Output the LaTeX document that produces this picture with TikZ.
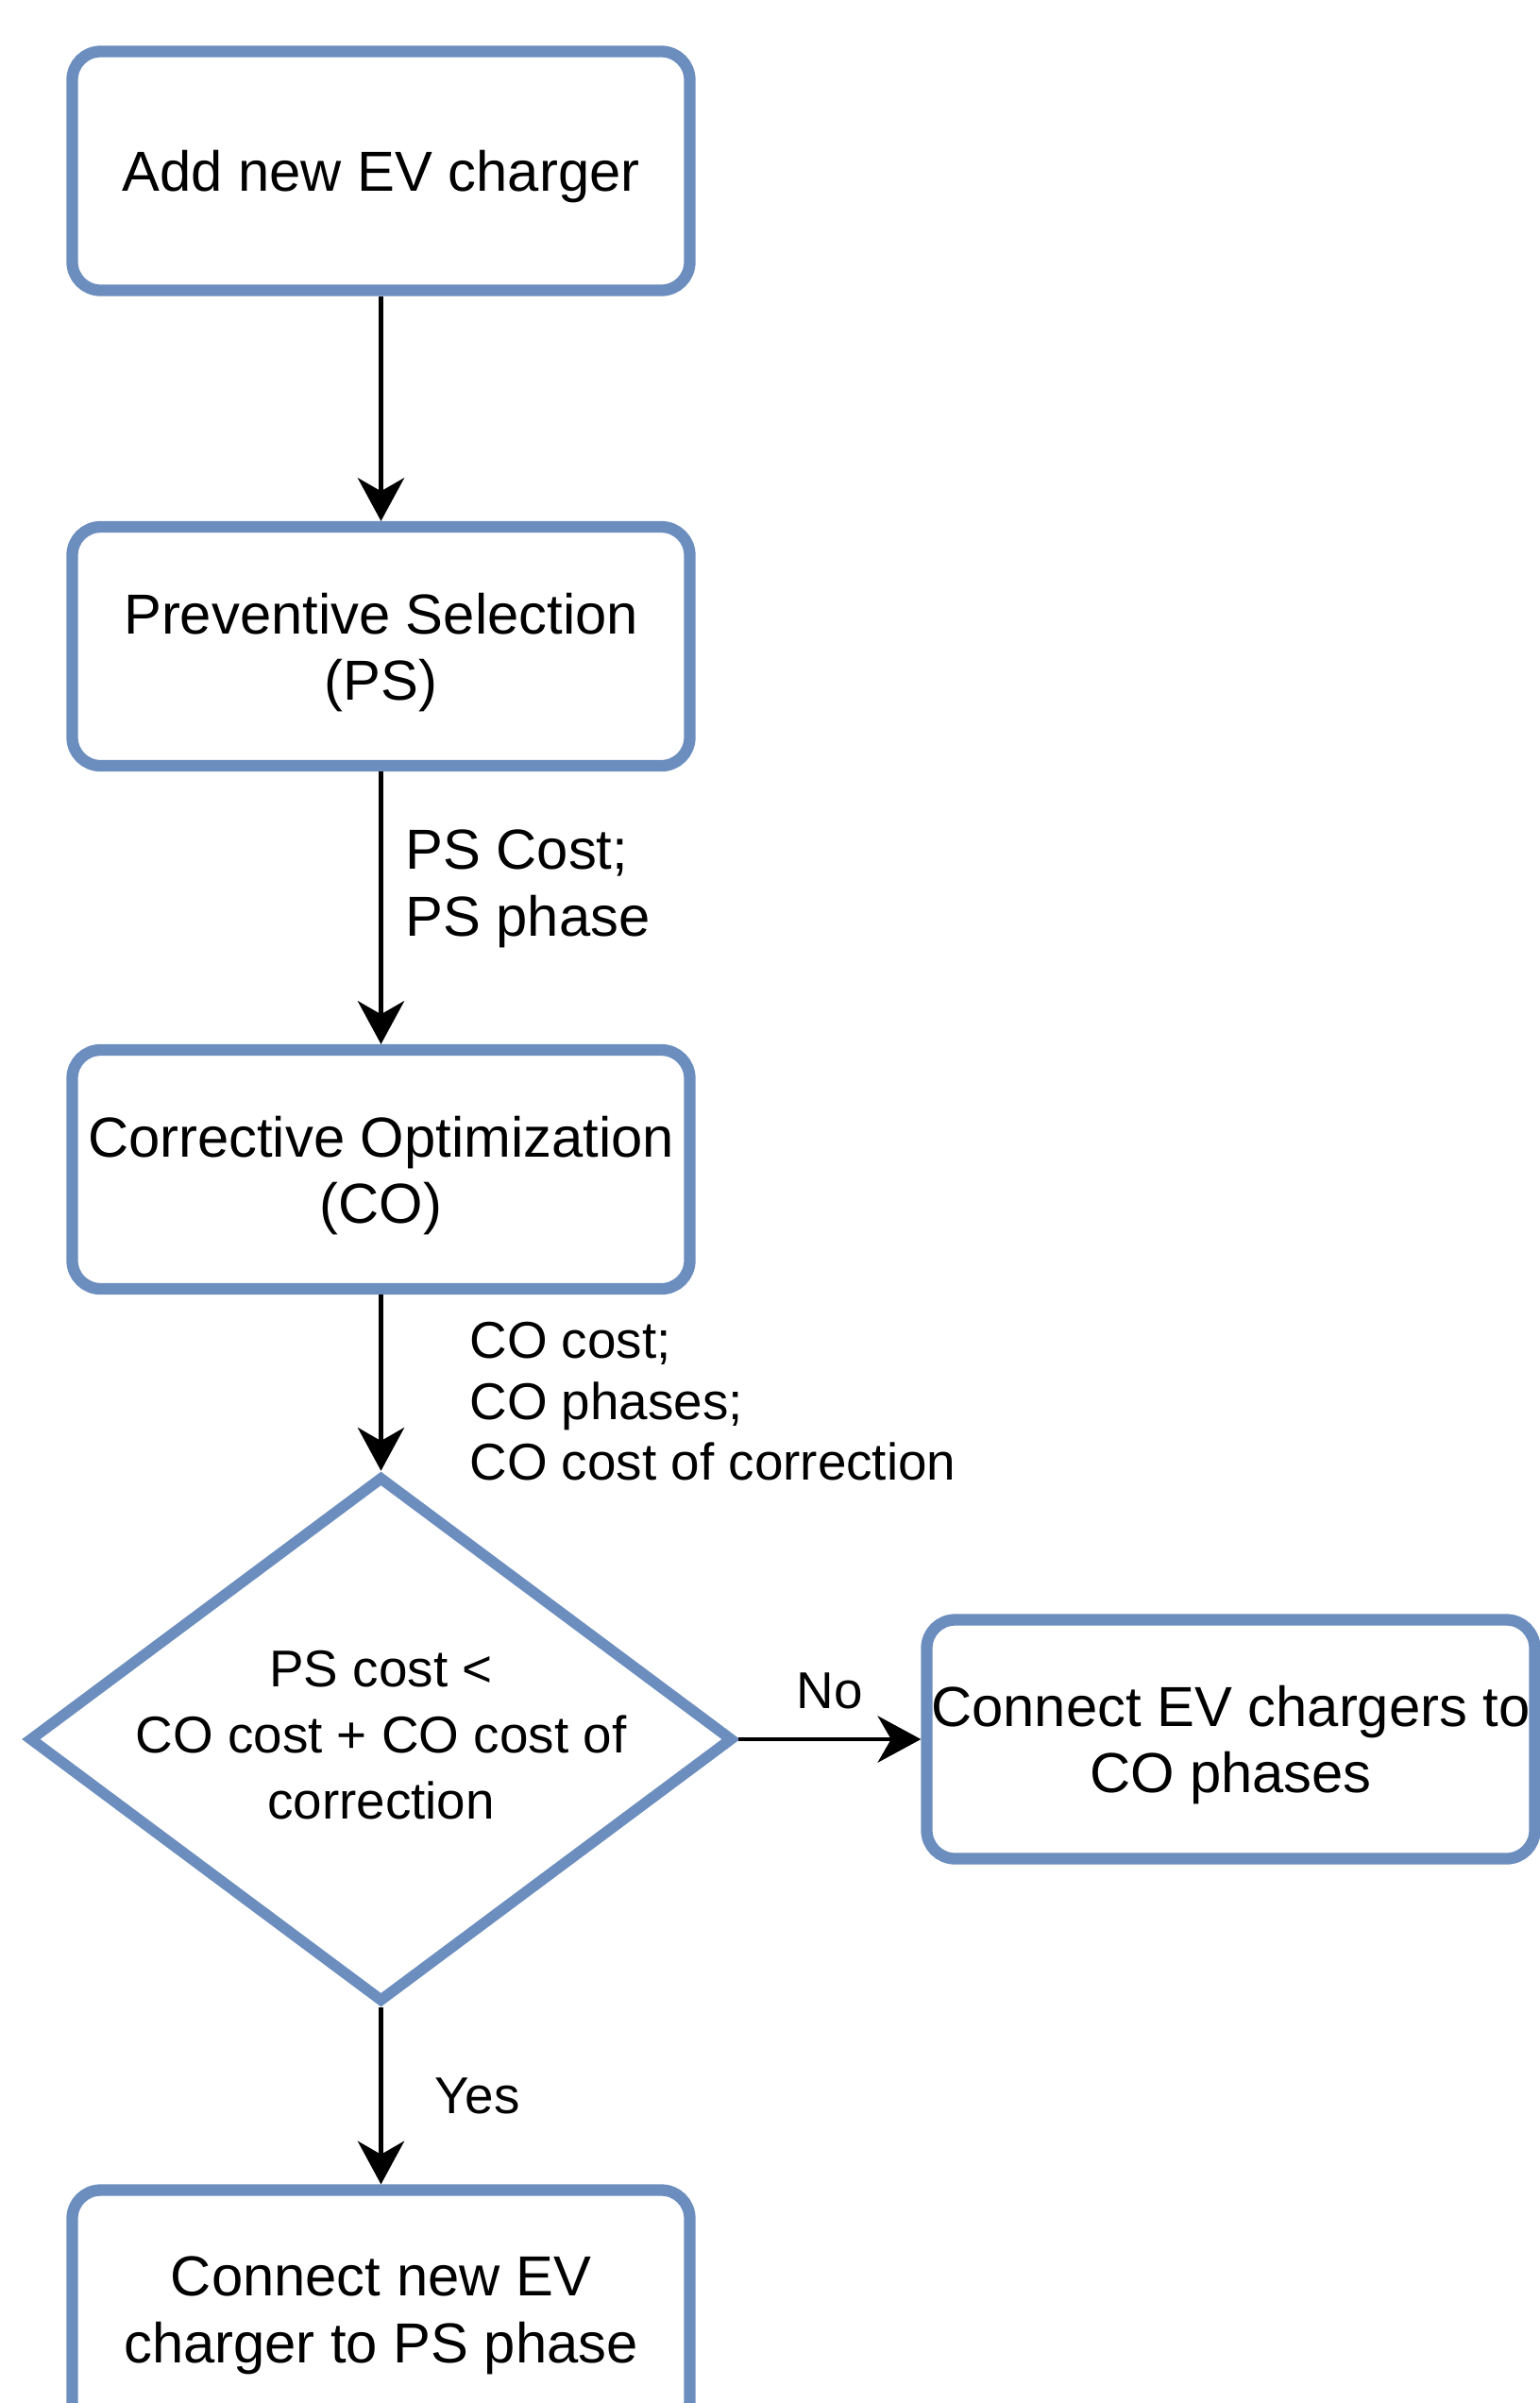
\documentclass[tikz,border=0pt]{standalone}
\usepackage{fontspec}
\setmainfont{Liberation Sans}
\usepackage{tikz}
\usetikzlibrary{shapes.geometric}
\usetikzlibrary{arrows.meta}
\definecolor{drawblue}{HTML}{6C8EBF}
\newcommand{\boxfont}{\fontsize{17}{20}\selectfont}
\newcommand{\lblfont}{\fontsize{15.6}{18.4}\selectfont}
\newcommand{\condfont}{\fontsize{15.6}{19.9}\selectfont}

\begin{document}
\begin{tikzpicture}[x=1cm,y=-1cm,
  stage/.style={draw=drawblue,line width=3.5pt,rounded corners=0.3cm,minimum width=6.54cm,minimum height=2.53cm,align=center,inner sep=0pt,text depth=0pt,font=\boxfont},
  decision/.style={diamond,draw=drawblue,line width=3.3pt,minimum width=7.46cm,minimum height=5.57cm,inner sep=0pt},
  flow/.style={line width=1.4pt,-{Stealth[length=13pt,width=14pt,inset=4pt]}},
  edgelabel/.style={inner sep=0pt,align=left,font=\lblfont}]
      \useasboundingbox (0,0) rectangle (16.3,25.45);
      % Steps
      \node[stage] (add) at (4.035,1.81) {Add new EV charger};
      \node[stage] (ps) at (4.035,6.845) {Preventive Selection\\(PS)};
      \node[stage] (co) at (4.035,12.385) {Corrective Optimization\\(CO)};
      \node[decision] (cond) at (4.035,18.42) {};
      \node[font=\condfont,align=center,inner sep=0pt,yshift=0.04cm] (condtext) at (cond) {PS cost <\\CO cost + CO cost of\\correction};
      \node[stage,minimum width=6.44cm] (coph) at (13.035,18.42) {Connect EV chargers to\\CO phases};
      \node[stage] (psph) at (4.035,24.46) {Connect new EV\\charger to PS phase};
      %
      % Flow Edges:
      \draw[flow] (add) -- (ps);
      \draw[flow] (ps) -- node[edgelabel,anchor=west,pos=0.43,xshift=0.235cm,font=\boxfont] {PS Cost;\\PS phase} (co);
      \draw[flow] (co) -- node[edgelabel,anchor=west,pos=0.606,xshift=0.915cm] {CO cost;\\CO phases;\\CO cost of correction} (cond);
      \draw[flow] (cond) -- node[edgelabel,above=0.3cm] {No} (coph);
      \draw[flow] (cond) -- node[edgelabel,anchor=west,xshift=0.55cm] {Yes} (psph);
\end{tikzpicture}
\end{document}
